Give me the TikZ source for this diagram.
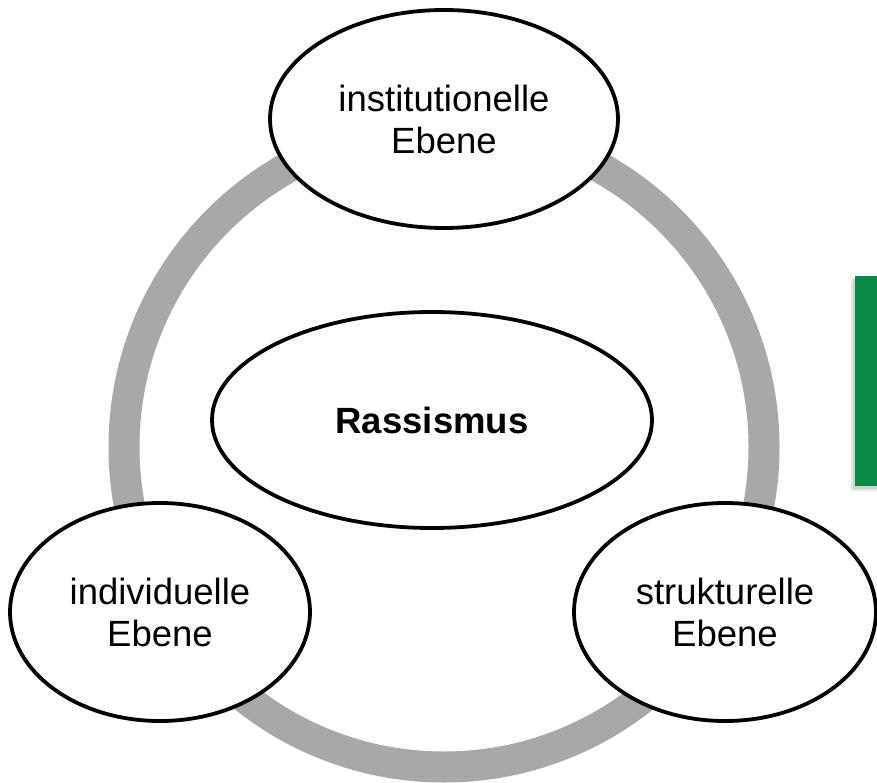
\documentclass[tikz,border=0pt]{standalone}
\usepackage{fontspec}
\setmainfont{Liberation Sans}
\usetikzlibrary{shapes.geometric}
\definecolor{ringgray}{HTML}{A8A8A8}
\definecolor{boxgreen}{HTML}{0A8A43}
\tikzset{
  level/.style={ellipse, draw=black, line width=3.8pt, fill=white, inner sep=0pt,
    align=center, font=\fontsize{36.5}{42}\selectfont},
}
\begin{document}
\begin{tikzpicture}[x=1pt,y=-1pt]
\useasboundingbox (0,0) rectangle (877,783);
% ring
\coordinate (ringc) at (444,447);
\draw[ringgray, line width=31pt] (ringc) circle[radius=320];
% green box with soft shadow
\fill[black!10] (851,281) rectangle (890,491);
\fill[black!18] (853,279) rectangle (890,489);
\fill[boxgreen] (855,276) rectangle (890,486);
% ellipses
\node[level, minimum width=348, minimum height=218] (inst) at (444,119) {institutionelle\\Ebene};
\node[level, minimum width=440, minimum height=216, font=\fontsize{36.5}{42}\selectfont\bfseries] (rass) at (432,420) {Rassismus};
\node[level, minimum width=300, minimum height=218] (indiv) at (160,612) {individuelle\\Ebene};
\node[level, minimum width=302, minimum height=218] (strukt) at (725,612) {strukturelle\\Ebene};
\end{tikzpicture}
\end{document}
